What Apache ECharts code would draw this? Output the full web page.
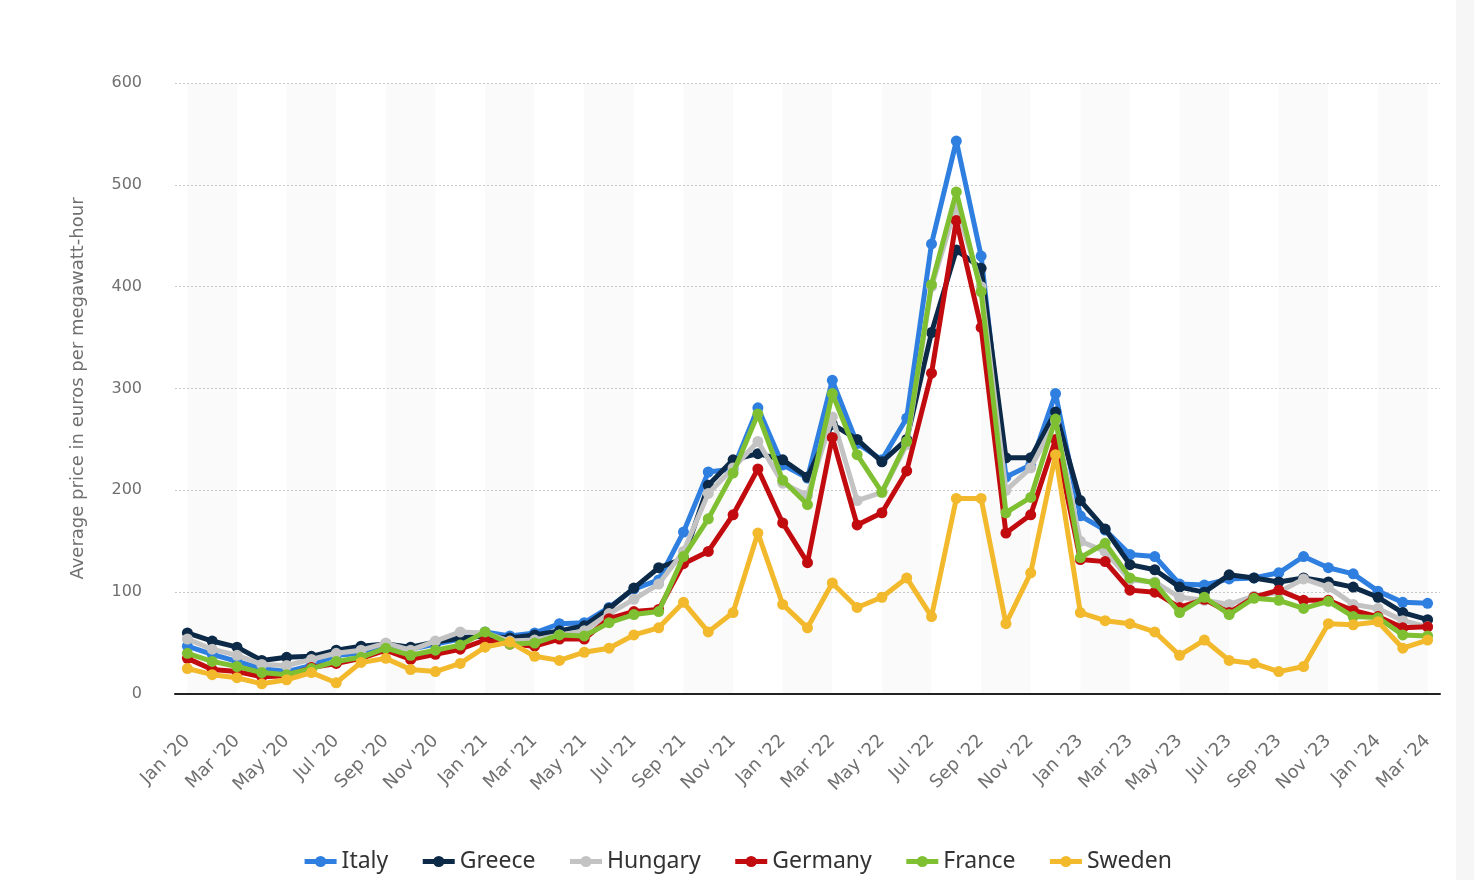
<!DOCTYPE html>
<html>
<head>
<meta charset="utf-8">
<title>Average monthly wholesale electricity prices</title>
<script src="https://cdn.jsdelivr.net/npm/echarts@6/dist/echarts.min.js"></script>
<style>
  html, body { margin: 0; padding: 0; background: #ffffff; }
  #chart { width: 1474px; height: 880px; }
</style>
</head>
<body>
<div id="chart"></div>
<script>
// Months Jan 2020 – Mar 2024
const monthNames = ['Jan', 'Feb', 'Mar', 'Apr', 'May', 'Jun', 'Jul', 'Aug', 'Sep', 'Oct', 'Nov', 'Dec'];
const months = [];
for (let y = 20; y <= 24; y++) {
  for (let m = 0; m < 12; m++) {
    if (y === 24 && m > 2) break;
    months.push(monthNames[m] + " '" + y);
  }
}

// Average price in euros per megawatt-hour
const italy = [
  47, 39, 32, 25, 22, 28, 38, 40, 49, 44, 49, 54,
  61, 57, 60, 69, 70, 85, 103, 112, 159, 218, 221, 281,
  225, 212, 308, 246, 230, 271, 442, 543, 430, 213, 225, 295,
  175, 161, 137, 135, 108, 107, 113, 114, 119, 135, 124, 118,
  101, 90, 89
];
const greece = [
  60, 52, 46, 33, 36, 37, 43, 47, 49, 46, 51, 55,
  57, 55, 58, 62, 67, 84, 104, 124, 133, 205, 230, 236,
  230, 213, 265, 250, 228, 250, 355, 436, 418, 232, 232, 277,
  190, 162, 127, 122, 105, 100, 117, 114, 110, 114, 110, 105,
  95, 80, 73
];
const hungary = [
  54, 44, 38, 29, 28, 34, 40, 43, 50, 43, 52, 61,
  60, 52, 53, 58, 62, 79, 93, 108, 140, 197, 222, 248,
  207, 195, 272, 190, 198, 245, 400, 480, 400, 200, 222, 268,
  150, 140, 112, 110, 95, 92, 88, 96, 100, 113, 105, 88,
  84, 72, 66
];
const germany = [
  35, 24, 22, 17, 18, 26, 30, 35, 43, 34, 39, 44,
  53, 49, 47, 54, 54, 74, 81, 83, 128, 140, 176, 221,
  168, 129, 252, 166, 178, 219, 315, 465, 360, 158, 176, 250,
  132, 130, 102, 100, 85, 93, 80, 95, 102, 92, 92, 82,
  76, 65, 66
];
const france = [
  40, 32, 27, 21, 19, 25, 32, 36, 45, 38, 43, 48,
  61, 49, 50, 58, 57, 70, 78, 81, 135, 172, 217, 275,
  210, 186, 295, 235, 198, 248, 402, 493, 395, 178, 193, 270,
  134, 148, 114, 109, 80, 95, 78, 94, 92, 84, 91, 76,
  75, 58, 57
];
const sweden = [
  25, 19, 16, 10, 14, 21, 11, 31, 35, 24, 22, 30,
  46, 51, 37, 33, 41, 45, 58, 65, 90, 61, 80, 158,
  88, 65, 109, 85, 95, 114, 76, 192, 192, 69, 119, 235,
  80, 72, 69, 61, 38, 53, 33, 30, 22, 27, 69, 68,
  71, 45, 53
];

const seriesNames = ['Italy', 'Greece', 'Hungary', 'Germany', 'France', 'Sweden'];
const seriesData = [italy, greece, hungary, germany, france, sweden];
const seriesColors = ['#2e7fe0', '#0c2a47', '#c3c3c3', '#c20b0f', '#7fc032', '#f2b92c'];

const chart = echarts.init(document.getElementById('chart'), null, { renderer: 'canvas' });

const option = {
  backgroundColor: '#ffffff',
  animation: false,
  color: seriesColors,
  grid: { left: 175, right: 34, top: 83, bottom: 186, containLabel: false },
  graphic: [
    { type: 'rect', shape: { x: 1456, y: 0, width: 18, height: 880 }, style: { fill: '#f6f6f6' }, silent: true, z: -10 }
  ],
  legend: {
    bottom: 2,
    left: 'center',
    itemWidth: 32,
    itemHeight: 14,
    itemGap: 32,
    lineStyle: { width: 5 },
    textStyle: { fontFamily: 'Noto Sans', fontSize: 23, color: '#333333' },
    data: seriesNames
  },
  xAxis: {
    type: 'category',
    data: months,
    boundaryGap: true,
    z: 0,
    axisLine: { show: true, lineStyle: { color: '#222222', width: 2 } },
    axisTick: { show: false },
    axisLabel: {
      interval: 1,
      rotate: 45,
      margin: 44,
      fontFamily: 'DejaVu Sans',
      fontSize: 18,
      color: '#707070'
    },
    splitLine: { show: false },
    splitArea: {
      show: true,
      interval: 1,
      alignWithLabel: true,
      areaStyle: { color: ['#fafafa', '#ffffff'] }
    }
  },
  yAxis: {
    type: 'value',
    min: 0,
    max: 600,
    interval: 100,
    z: 1,
    name: 'Average price in euros per megawatt-hour',
    nameLocation: 'middle',
    nameGap: 88,
    nameRotate: 90,
    nameTextStyle: { fontFamily: 'DejaVu Sans', fontSize: 18, color: '#707070' },
    axisLine: { show: false },
    axisTick: { show: false },
    axisLabel: { margin: 33, fontFamily: 'DejaVu Sans', fontSize: 16, color: '#707070' },
    splitLine: { show: true, showMinLine: false, lineStyle: { color: '#c8c8c8', type: [2, 2], width: 1 } }
  },
  series: seriesNames.map((name, i) => ({
    name: name,
    type: 'line',
    data: seriesData[i],
    symbol: 'circle',
    symbolSize: 11,
    lineStyle: { width: 5, color: seriesColors[i] },
    itemStyle: { color: seriesColors[i] },
    z: 2 + i
  }))
};

chart.setOption(option);
</script>
</body>
</html>
